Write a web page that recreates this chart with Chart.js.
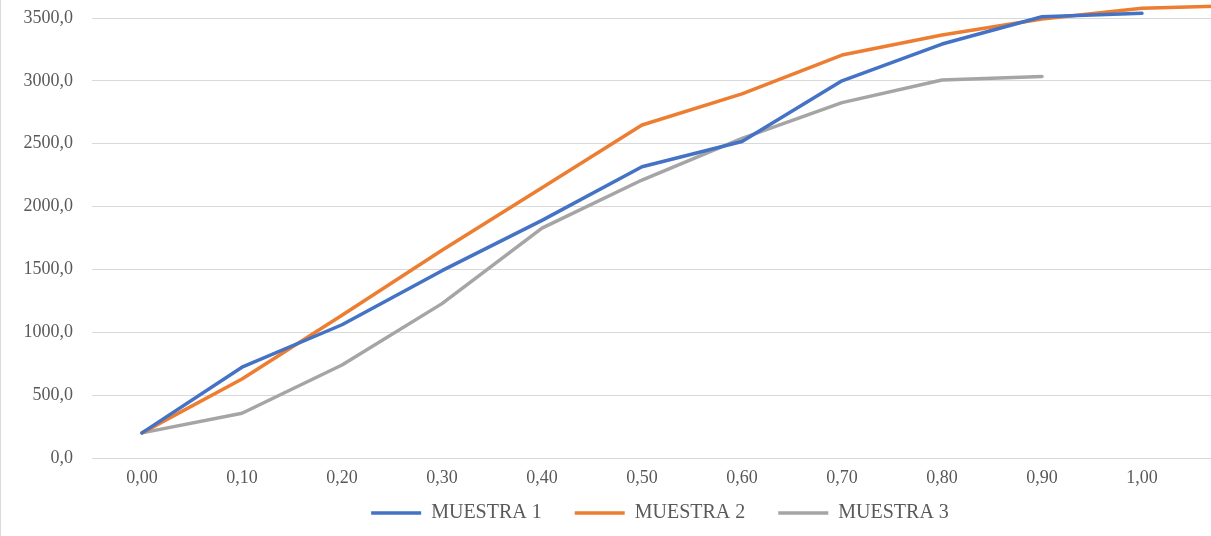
<!DOCTYPE html>
<html>
<head>
<meta charset="utf-8">
<script src="https://cdn.jsdelivr.net/npm/chart.js@4/dist/chart.umd.min.js"></script>
<style>
  html, body { margin: 0; padding: 0; background: #ffffff; overflow: hidden; }
  body { width: 1211px; height: 536px; position: relative; }
  #frame { position: absolute; left: 0; top: 0; width: 0; height: 536px; border-left: 1px solid #d9d9d9; }
  #wrap { position: absolute; left: 0; top: 0; width: 1320px; height: 536px; }
</style>
</head>
<body>
<div id="wrap"><canvas id="chart"></canvas></div>
<div id="frame"></div>
<script>
// Categories along the horizontal axis
const categories = ['0,00', '0,10', '0,20', '0,30', '0,40', '0,50', '0,60', '0,70', '0,80', '0,90', '1,00', '1,10'];

// Series values
const muestra1 = [200, 722, 1060, 1490, 1890, 2317, 2518, 3000, 3293, 3510, 3537, null];
const muestra2 = [200, 628, 1135, 1652, 2150, 2649, 2896, 3205, 3365, 3492, 3577, 3600];
const muestra3 = [200, 356, 740, 1228, 1828, 2211, 2542, 2827, 3007, 3035, null, null];

const seriesNames = ['MUESTRA 1', 'MUESTRA 2', 'MUESTRA 3'];
const seriesColors = ['#4472C4', '#ED7D31', '#A5A5A5'];

// Value axis ticks
const yMin = 0;
const yMax = 3500;
const yStep = 500;

const textColor = '#595959';
const gridColor = '#d9d9d9';
const fontFamily = '"Liberation Serif", "Times New Roman", serif';

function lineDataset(label, data, color) {
  return {
    label: label,
    data: data,
    borderColor: color,
    backgroundColor: color,
    borderWidth: 3.5,
    pointRadius: 0,
    pointHoverRadius: 0,
    tension: 0,
    fill: false,
    spanGaps: false,
    clip: false,
    borderCapStyle: 'round',
    borderJoinStyle: 'round'
  };
}

// Tick labels reach outside their scale boxes (the category labels sit
// inside the legend's box, the value labels inside the left margin), so
// widen the label clip regions once the layout is settled.
const labelRoom = {
  id: 'labelRoom',
  afterLayout(chart) {
    const x = chart.scales.x;
    x.bottom = x.top + 40;
    const y = chart.scales.y;
    y.left = 0;
  }
};

new Chart(document.getElementById('chart'), {
  type: 'line',
  data: {
    labels: categories,
    datasets: [
      lineDataset(seriesNames[0], muestra1, seriesColors[0]),
      lineDataset(seriesNames[1], muestra2, seriesColors[1]),
      lineDataset(seriesNames[2], muestra3, seriesColors[2])
    ]
  },
  plugins: [labelRoom],
  options: {
    responsive: true,
    maintainAspectRatio: false,
    animation: false,
    devicePixelRatio: 1,
    layout: { padding: { top: 18, right: 28, bottom: 3, left: 28 } },
    plugins: {
      tooltip: { enabled: false },
      legend: {
        position: 'bottom',
        align: 'center',
        labels: {
          usePointStyle: true,
          pointStyle: 'line',
          pointStyleWidth: 50,
          padding: 33,
          color: textColor,
          font: { family: fontFamily, size: 20 }
        }
      }
    },
    scales: {
      x: {
        type: 'category',
        offset: true,
        grid: { display: false, drawTicks: false },
        border: { display: true, color: gridColor, width: 1 },
        ticks: {
          color: textColor,
          font: { family: fontFamily, size: 18 },
          padding: 9,
          maxRotation: 0,
          autoSkip: false
        },
        afterFit: (scale) => { scale.height = 12; }
      },
      y: {
        min: yMin,
        max: yMax,
        grid: { color: gridColor, lineWidth: 1, drawTicks: false },
        border: { display: false },
        ticks: {
          stepSize: yStep,
          color: textColor,
          font: { family: fontFamily, size: 18 },
          padding: 19,
          callback: (v) => Number(v).toFixed(1).replace('.', ',')
        },
        afterFit: (scale) => {
          scale.width = 64;
          scale.paddingTop = 0;
          scale.paddingBottom = 0;
        }
      }
    }
  }
});
</script>
</body>
</html>
